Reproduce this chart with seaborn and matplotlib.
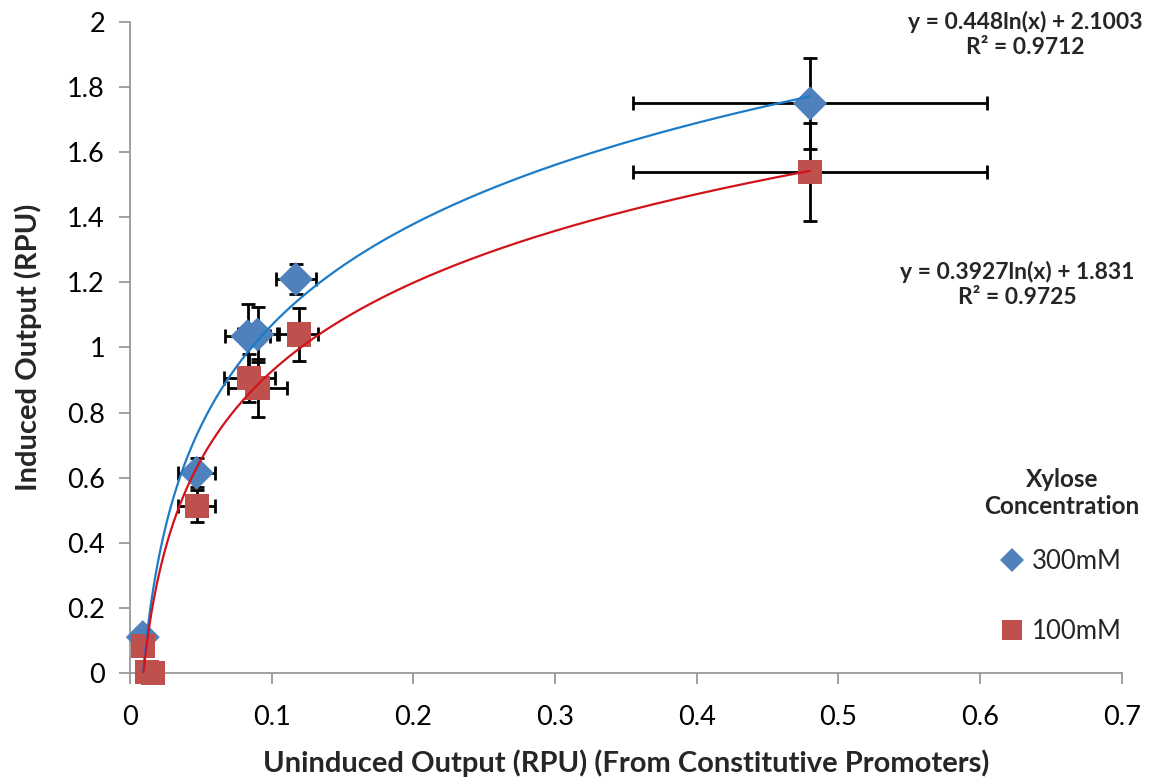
import numpy as np
import pandas as pd
import matplotlib
matplotlib.use("Agg")
import matplotlib.pyplot as plt
from matplotlib.lines import Line2D
import seaborn as sns

sns.set_style("white")
plt.rcParams["font.family"] = ["Lato", "DejaVu Sans"]

# Uninduced vs induced output, 300 mM xylose
x_300 = [0.480, 0.117, 0.083, 0.090, 0.047, 0.009]
y_300 = [1.750, 1.210, 1.035, 1.040, 0.615, 0.110]
xerr_300 = [0.125, 0.014, 0.016, 0.014, 0.013, 0.0]
yerr_300 = [0.140, 0.045, 0.100, 0.085, 0.045, 0.0]

# Uninduced vs induced output, 100 mM xylose
x_100 = [0.480, 0.119, 0.084, 0.090, 0.047, 0.009, 0.012, 0.016]
y_100 = [1.540, 1.040, 0.906, 0.876, 0.513, 0.083, 0.004, 0.000]
xerr_100 = [0.125, 0.014, 0.018, 0.021, 0.013, 0.0, 0.0, 0.0]
yerr_100 = [0.150, 0.080, 0.075, 0.090, 0.050, 0.0, 0.0, 0.0]

# Logarithmic trendlines y = a*ln(x) + b, with R²
fit_300 = (0.448, 2.1003, 0.9712)
fit_100 = (0.3927, 1.831, 0.9725)

labels = ["300mM", "100mM"]
marker_colors = ["#4F81BD", "#C0504D"]
line_colors = ["#1C7CC8", "#D0141A"]

xtick_labels = ["0", "0.1", "0.2", "0.3", "0.4", "0.5", "0.6", "0.7"]
ytick_labels = ["0", "0.2", "0.4", "0.6", "0.8", "1", "1.2", "1.4", "1.6", "1.8", "2"]

df = pd.concat([
    pd.DataFrame({"x": x_300, "y": y_300, "Xylose": labels[0]}),
    pd.DataFrame({"x": x_100, "y": y_100, "Xylose": labels[1]}),
])

fig = plt.figure(figsize=(11.64, 7.78), dpi=100)
ax = fig.add_axes([0.1117, 0.135, 0.852, 0.8367])

# error bars
for xs, ys, xe, ye in [(x_300, y_300, xerr_300, yerr_300),
                       (x_100, y_100, xerr_100, yerr_100)]:
    ax.errorbar(xs, ys, xerr=xe, yerr=ye, fmt="none", ecolor="black",
                elinewidth=2.0, capsize=5, capthick=2.0, zorder=2)

sns.scatterplot(data=df, x="x", y="y", hue="Xylose", style="Xylose",
                palette=dict(zip(labels, marker_colors)),
                markers={labels[0]: "D", labels[1]: "s"},
                s=300, linewidth=0, ax=ax, zorder=3, legend=False,
                clip_on=False)

# trendlines over the data range
for (a, b, _), col, xs in [(fit_300, line_colors[0], x_300),
                           (fit_100, line_colors[1], x_100)]:
    x0 = np.exp(-b / a)
    xx = np.linspace(x0, max(xs), 400)
    sns.lineplot(x=xx, y=a * np.log(xx) + b, color=col, lw=1.6, ax=ax, zorder=4)

ax.set_xlim(0, 0.7)
ax.set_ylim(0, 2.0)
ax.set_xticks(np.arange(len(xtick_labels)) * 0.1)
ax.set_xticklabels(xtick_labels)
ax.set_yticks(np.arange(len(ytick_labels)) * 0.2)
ax.set_yticklabels(ytick_labels)
ax.tick_params(axis="both", labelsize=19.5, direction="out", length=8,
               color="#999999", width=1.3, left=True, bottom=True,
               labelcolor="black")
ax.tick_params(axis="x", pad=15)
ax.tick_params(axis="y", pad=10)
for side in ["top", "right"]:
    ax.spines[side].set_visible(False)
for side in ["left", "bottom"]:
    ax.spines[side].set_color("#999999")
    ax.spines[side].set_linewidth(1.3)

ax.set_xlabel("Uninduced Output (RPU) (From Constitutive Promoters)",
              fontsize=21, fontweight="bold", labelpad=14)
ax.set_ylabel("Induced Output (RPU)", fontsize=21, fontweight="bold", labelpad=18)

# trendline equations
def eq_text(a, b, r2, xpos, ypos):
    fig.text(xpos, ypos, f"y = {a}ln(x) + {b}\nR² = {r2}",
             ha="center", va="top", fontsize=16.5, fontweight="bold",
             multialignment="center", linespacing=1.25)

eq_text(*fit_300, 1025 / 1164, 1 - 11 / 778)
eq_text(*fit_100, 1017 / 1164, 1 - 261 / 778)

# legend
handles = [Line2D([], [], ls="none", marker="D", ms=12, color=marker_colors[0], mew=0),
           Line2D([], [], ls="none", marker="s", ms=15, color=marker_colors[1], mew=0)]
leg = fig.legend(handles, labels, title="Xylose\nConcentration",
                 loc="upper left", bbox_to_anchor=(0.83, 0.421),
                 frameon=False, fontsize=18.5, labelspacing=1.75,
                 handlelength=0.8, handletextpad=0.35, borderpad=0.2)
leg.get_title().set_fontweight("bold")
leg.get_title().set_fontsize(17.5)
leg.get_title().set_multialignment("center")
leg.get_title().set_linespacing(1.2)
leg._legend_box.sep = 22

fig.savefig("out.png", dpi=100)
